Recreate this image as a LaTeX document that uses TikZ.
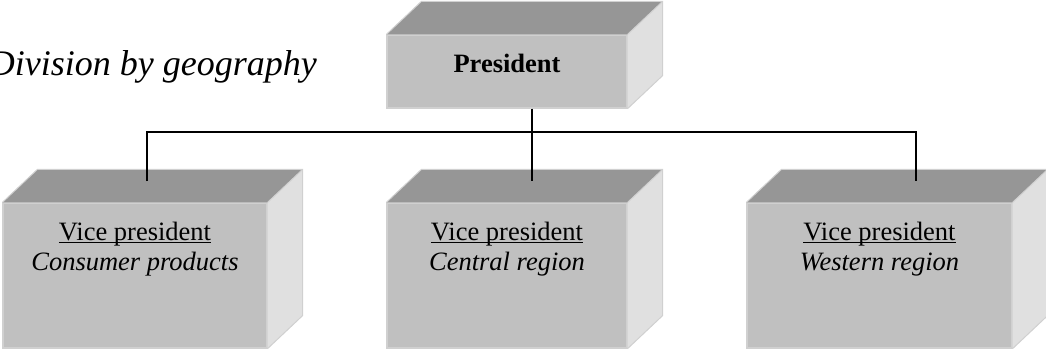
\documentclass[tikz,border=0pt]{standalone}
\usepackage{fontspec}
\setmainfont{Liberation Serif}
\usetikzlibrary{calc}
\definecolor{frontc}{HTML}{C0C0C0}
\definecolor{topc}{HTML}{969696}
\definecolor{sidec}{HTML}{E0E0E0}
\definecolor{edgec}{HTML}{D0D0D0}
\newcommand\myul[1]{\setbox0\hbox{#1}\rlap{\rule[-3.2pt]{\wd0}{1.6pt}}\box0}
\newcommand\drawcube[1]{%
  \fill[topc] (#1.north west) -- ++(35,-33) -- ($(#1.north east)+(35pt,33pt)$) -- (#1.north east) -- cycle;
  \fill[sidec] (#1.north east) -- ++(35,-33) -- ($(#1.south east)+(35pt,33pt)$) -- (#1.south east) -- cycle;
  \draw[edgec,line width=1pt] (#1.north west) -- ++(35,-33) -- ($(#1.north east)+(35pt,33pt)$) -- ($(#1.south east)+(35pt,33pt)$) -- (#1.south east);
  \draw[edgec,line width=1pt] (#1.north east) -- ++(35,-33);
}
\begin{document}
\begin{tikzpicture}[x=1pt,y=-1pt,
  front/.style={rectangle,fill=frontc,draw=edgec,line width=1.2pt,inner sep=0pt,minimum height=#1},
  vptext/.style={anchor=base,inner sep=0pt,font=\fontsize{26.5}{30}\selectfont},
  conn/.style={line width=1.6pt,black}]
\useasboundingbox (0,0) rectangle (1046,351);
\node[anchor=base east,inner sep=0pt,font=\fontsize{36}{40}\selectfont\itshape] (title) at (317,75) {Division by geography};
% boxes
\node[front=73pt,minimum width=240pt] (pres) at (507,71.5) {};
\node[front=145pt,minimum width=264pt] (cons) at (135,275.5) {};
\node[front=145pt,minimum width=240pt] (cent) at (507,275.5) {};
\node[front=145pt,minimum width=265pt] (west) at (879.5,275.5) {};
\drawcube{pres}
\drawcube{cons}
\drawcube{cent}
\drawcube{west}
% labels
\node[vptext,font=\fontsize{26.5}{30}\selectfont\bfseries] (presl) at (507,72) {President};
\node[vptext] (consl1) at (135,240) {\myul{Vice president}};
\node[vptext] (consl2) at (135,270) {\itshape Consumer products};
\node[vptext] (centl1) at (507,240) {\myul{Vice president}};
\node[vptext] (centl2) at (507,270) {\itshape Central region};
\node[vptext] (westl1) at (879.5,240) {\myul{Vice president}};
\node[vptext] (westl2) at (879.5,270) {\itshape Western region};
% connectors
\coordinate (bus) at (532,132);
\coordinate (c1) at (147,181);
\coordinate (c2) at (532,181);
\coordinate (c3) at (916,181);
\draw[conn] (pres.south -| bus) -- (bus);
\draw[conn] (c1) |- (bus) -| (c3);
\draw[conn] (bus) -- (c2);
\end{tikzpicture}
\end{document}
